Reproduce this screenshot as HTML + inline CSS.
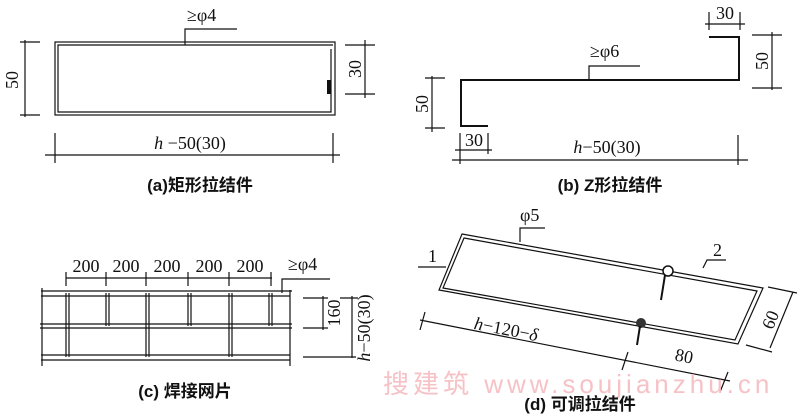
<!DOCTYPE html>
<html><head><meta charset="utf-8"><style>
body{margin:0;background:#fff;}
svg{display:block;font-family:"Liberation Serif","Noto Serif CJK SC",serif;}
.l{stroke:#111;fill:none;stroke-width:1.2}
.w{stroke:#111;fill:none;stroke-width:2}
.t{font-size:18px;fill:#111}
.c{font-size:17px;fill:#111;font-weight:bold;font-family:"Liberation Sans","Noto Sans CJK SC",sans-serif}
</style></head><body>
<svg width="800" height="414" viewBox="0 0 800 414" xmlns="http://www.w3.org/2000/svg">
<rect width="800" height="414" fill="#fff"/>
<!-- (a) -->
<rect x="55" y="42" width="280" height="73" class="l" stroke-width="1.6"/>
<path d="M331 49 V112 H58 V45 H333" class="l"/>
<rect x="327" y="80" width="4" height="14" fill="#111"/>
<path d="M185 45 V29 H237" class="l"/>
<text x="187" y="21" class="t">≥φ4</text>
<path d="M25 40 V117 M20 42 H40 M20 115 H40" class="l"/>
<text transform="translate(18,80) rotate(-90)" class="t" text-anchor="middle">50</text>
<path d="M365 40 V98 M345 45 H375 M345 94 H375" class="l"/>
<text transform="translate(361,69) rotate(-90)" class="t" text-anchor="middle">30</text>
<path d="M45 155 H340 M55 133 V163 M333 133 V163" class="l"/>
<text x="190" y="149" class="t" text-anchor="middle"><tspan font-style="italic">h</tspan> −50(30)</text>
<text x="200" y="191" class="c" text-anchor="middle">(a)矩形拉结件</text>
<!-- (b) -->
<path d="M488 126 H461 V80 H739 V37 H709" class="w"/>
<path d="M589 80 V66 H640" class="l"/>
<text x="590" y="57" class="t">≥φ6</text>
<path d="M705 24 H745 M709 12 V30 M740 12 V30" class="l"/>
<text x="725" y="19" class="t" text-anchor="middle">30</text>
<path d="M772 32 V90 M752 35 H782 M752 88 H782" class="l"/>
<text transform="translate(768,61) rotate(-90)" class="t" text-anchor="middle">50</text>
<path d="M432 76 V132 M425 78 H445 M425 128 H445" class="l"/>
<text transform="translate(428,104) rotate(-90)" class="t" text-anchor="middle">50</text>
<path d="M452 160 H748 M460 133 V164 M488 133 V154 M738 135 V165 M455 150 H492" class="l"/>
<text x="474" y="146" class="t" text-anchor="middle">30</text>
<text x="607" y="153" class="t" text-anchor="middle"><tspan font-style="italic">h</tspan>−50(30)</text>
<text x="610" y="191" class="c" text-anchor="middle">(b) Z形拉结件</text>
<!-- (c) -->
<path d="M41 291 H292 M41 296 H290 M40 324 H292 M40 328 H292 M41 355 H290 M41 360 H290" class="l"/>
<path d="M42 288 V366 M290 290 V366" class="l"/>
<path d="M66 293 V357 M69 293 V357 M146 293 V357 M149 293 V357 M229 293 V357 M232 293 V357 M106 293 V326 M109 293 V326 M188 293 V326 M191 293 V326 M269 293 V326 M272 293 V326" class="l"/>
<path d="M66 278 H272 M66 272 V286 M106 272 V286 M146 272 V286 M188 272 V286 M229 272 V286 M271 272 V286" class="l"/>
<text x="86" y="272" class="t" text-anchor="middle">200</text>
<text x="126" y="272" class="t" text-anchor="middle">200</text>
<text x="167" y="272" class="t" text-anchor="middle">200</text>
<text x="209" y="272" class="t" text-anchor="middle">200</text>
<text x="250" y="272" class="t" text-anchor="middle">200</text>
<path d="M282 293 V279 H330" class="l"/>
<text x="288" y="270" class="t">≥φ4</text>
<path d="M323 296 V330 M303 298 H328 M303 328 H328 M352 296 V358 M303 357 H356 M340 298 H358" class="l"/>
<text transform="translate(340,313) rotate(-90)" class="t" text-anchor="middle">160</text>
<text transform="translate(370,328) rotate(-90)" class="t" text-anchor="middle"><tspan font-style="italic">h</tspan>−50(30)</text>
<text x="185" y="397" class="c" text-anchor="middle">(c) 焊接网片</text>
<!-- (d) -->
<path d="M462 234 L763 288 L738 344 L439 290 Z" class="l" stroke-width="1.6"/>
<path d="M464 238 L757 291 L735 340 L443 288 Z" class="l"/>
<circle cx="668" cy="271" r="5" fill="#fff" stroke="#111" stroke-width="1.5"/>
<path d="M665 275 L661 300" class="w"/>
<circle cx="641" cy="323" r="5" fill="#333"/>
<path d="M640 326 L637 345" class="w"/>
<path d="M520 242 V228 H545" class="l"/>
<text x="520" y="221" class="t">φ5</text>
<path d="M418 267 H446" class="l"/>
<text x="428" y="262" class="t">1</text>
<path d="M703 268 L707 260 H726" class="l"/>
<text x="713" y="256" class="t">2</text>
<path d="M420 320 L730 381 M425 312 L420 330 M628 352 L622 370 M728 372 L720 392" class="l"/>
<text transform="translate(505,335) rotate(11)" class="t" text-anchor="middle"><tspan font-style="italic">h</tspan>−120−<tspan font-style="italic">δ</tspan></text>
<text transform="translate(683,362) rotate(11)" class="t" text-anchor="middle">80</text>
<path d="M793 292 L770 348 M768 287 L797 293 M746 345 L772 352" class="l"/>
<text transform="translate(776,322) rotate(-68)" class="t" text-anchor="middle">60</text>
<text x="383" y="393" font-size="26" letter-spacing="4" fill="#f6c2c6" font-family="'Liberation Sans','Noto Sans CJK SC',sans-serif">搜建筑 www.soujianzhu.cn</text>
<text x="580" y="410" class="c" text-anchor="middle">(d) 可调拉结件</text>
</svg>
</body></html>
